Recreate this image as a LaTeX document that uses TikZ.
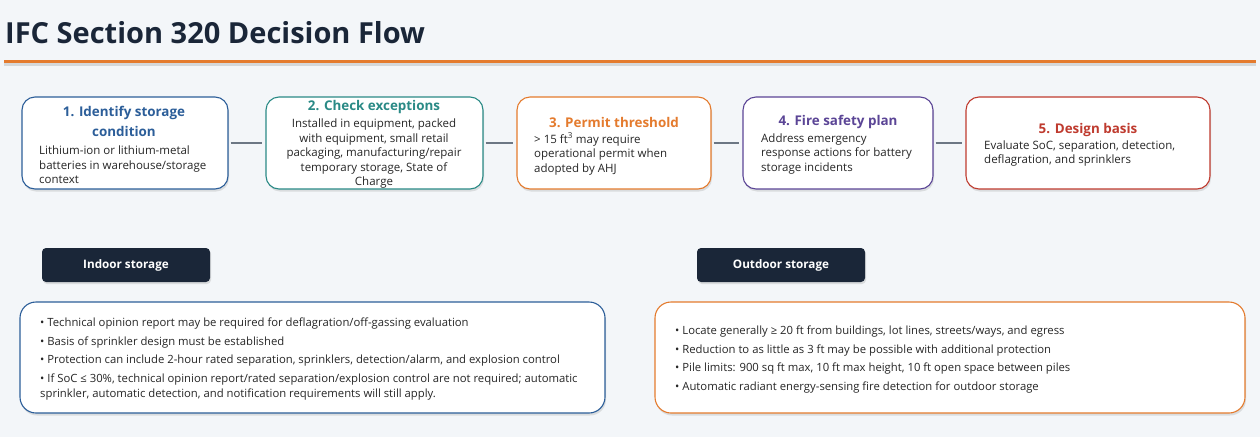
\documentclass[tikz,border=0pt]{standalone}
\usepackage{fontspec}
\setmainfont{Open Sans}
\usetikzlibrary{shadows}
\definecolor{bg}{HTML}{F3F6F9}
\definecolor{navy}{HTML}{1A2638}
\definecolor{accent}{HTML}{E47B2E}
\definecolor{cblue}{HTML}{2C5E99}
\definecolor{cteal}{HTML}{2A8A86}
\definecolor{corange}{HTML}{E47B2E}
\definecolor{cpurple}{HTML}{5B4596}
\definecolor{cred}{HTML}{BF3B2F}
\definecolor{cgray}{HTML}{6C7784}
\definecolor{ctext}{HTML}{262626}
\tikzset{
  stepbox/.style={draw=#1, line width=1.1pt, fill=white, rounded corners=13pt,
    minimum height=92pt, inner sep=0pt,
    drop shadow={opacity=0.22, shadow xshift=1pt, shadow yshift=-2.5pt}},
  bigbox/.style={draw=#1, line width=1.1pt, fill=white, rounded corners=16pt,
    minimum height=111pt, inner sep=0pt,
    drop shadow={opacity=0.22, shadow xshift=1pt, shadow yshift=-2.5pt}},
  tag/.style={fill=navy, rounded corners=4pt, minimum width=168pt, minimum height=34pt,
    inner sep=0pt, text=white, font=\fontsize{11.7}{13}\selectfont\bfseries,
    drop shadow={opacity=0.22, shadow xshift=1pt, shadow yshift=-2pt}},
  steptitle/.style={text=#1, font=\fontsize{13.4}{20}\selectfont\bfseries, align=center, inner sep=0pt},
  body/.style={text=ctext, font=\fontsize{11.5}{14.5}\selectfont, inner sep=0pt},
  bullets/.style={text=ctext, font=\fontsize{11.3}{15}\selectfont, inner sep=0pt, align=left, anchor=west},
  link/.style={draw=cgray, line width=2pt, shorten <=2pt, shorten >=3pt}
}
\begin{document}
\begin{tikzpicture}[x=1pt,y=-1pt]
\fill[bg] (0,0) rectangle (1260,437);
\useasboundingbox (0,0) rectangle (1260,437);
% title
\node[anchor=west, text=navy, font=\fontsize{29}{32}\selectfont\bfseries, inner sep=0pt] (title) at (5,33) {IFC Section 320 Decision Flow};
\fill[black, opacity=0.12] (4,62.5) rectangle (1256,65.5);
\coordinate (ruleL) at (4,61);
\coordinate (ruleR) at (1256,61);
\draw[accent, line width=3pt] (ruleL) -- (ruleR);
% step boxes
\node[stepbox=cblue, minimum width=206pt] (b1) at (125,143) {};
\node[stepbox=cteal, minimum width=217pt] (b2) at (374.5,143) {};
\node[stepbox=corange, minimum width=194pt] (b3) at (614,143) {};
\node[stepbox=cpurple, minimum width=190pt] (b4) at (838,143) {};
\node[stepbox=cred, minimum width=244pt] (b5) at (1088,143) {};
\draw[link] (b1) -- (b2);
\draw[link] (b2) -- (b3);
\draw[link] (b3) -- (b4);
\draw[link] (b4) -- (b5);
% step texts
\node[steptitle=cblue] (t1) at (124,121) {1. Identify storage\\condition};
\node[body, align=left, anchor=west] (d1) at (39,165) {Lithium-ion or lithium-metal\\batteries in warehouse/storage\\context};
\node[steptitle=cteal] (t2) at (374,107) {2. Check exceptions};
\node[body, align=center] (d2) at (374,154) {Installed in equipment, packed\\with equipment, small retail\\packaging, manufacturing/repair\\temporary storage, State of\\Charge};
\node[steptitle=corange] (t3) at (614,122) {3. Permit threshold};
\node[body, align=left, anchor=west] (d3) at (534,154) {> 15 ft\textsuperscript{3} may require\\operational permit when\\adopted by AHJ};
\node[steptitle=cpurple] (t4) at (838,122) {4. Fire safety plan};
\node[body, align=left, anchor=west] (d4) at (761,154) {Address emergency\\response actions for battery\\storage incidents};
\node[steptitle=cred] (t5) at (1088,130) {5. Design basis};
\node[body, align=left, anchor=west] (d5) at (984,153.5) {Evaluate SoC, separation, detection,\\deflagration, and sprinklers};
% lower section
\node[tag] (in) at (126,265) {Indoor storage};
\node[tag, minimum width=168pt] (out) at (781,265) {Outdoor storage};
\node[bigbox=cblue, minimum width=585pt] (inbox) at (312.5,357.5) {};
\node[bigbox=corange, minimum width=590pt] (outbox) at (950,357.5) {};
\node[bullets] (inlist) at (40,359) {• Technical opinion report may be required for deflagration/off-gassing evaluation\\[3.5pt]
• Basis of sprinkler design must be established\\[3.5pt]
• Protection can include 2-hour rated separation, sprinklers, detection/alarm, and explosion control\\[3.5pt]
• If SoC ≤ 30\%, technical opinion report/rated separation/explosion control are not required; automatic\\
sprinkler, automatic detection, and notification requirements will still apply.};
\node[bullets] (outlist) at (675,359.5) {• Locate generally ≥ 20 ft from buildings, lot lines, streets/ways, and egress\\[3.5pt]
• Reduction to as little as 3 ft may be possible with additional protection\\[3.5pt]
• Pile limits: 900 sq ft max, 10 ft max height, 10 ft open space between piles\\[3.5pt]
• Automatic radiant energy-sensing fire detection for outdoor storage};
\end{tikzpicture}
\end{document}
